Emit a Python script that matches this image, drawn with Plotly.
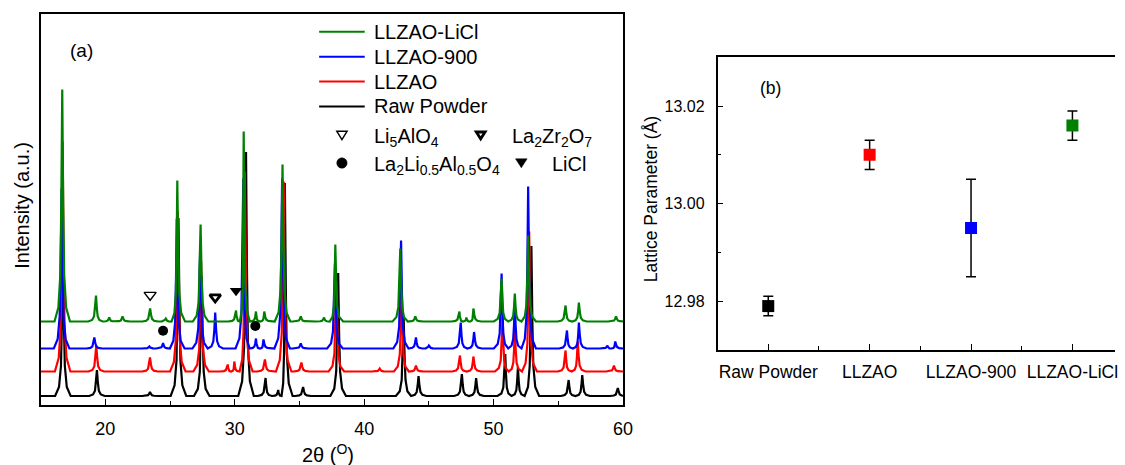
import plotly.graph_objects as go

# ---------------- data ----------------
# (a) XRD patterns: peak positions (2theta, deg) and heights (a.u.) above each baseline
series_names = ["Raw Powder", "LLZAO", "LLZAO-900", "LLZAO-LiCl"]
series_colors = ["#000000", "#ff0000", "#0000ff", "#008000"]

raw_base = 9.0
raw_pos = [16.72, 19.35, 23.45, 25.65, 27.45, 30.87, 32.38, 33.36, 33.87, 35.28,
           37.99, 43.05, 44.20, 47.55, 48.65, 50.90, 51.88, 52.92, 55.80, 56.85, 59.60]
raw_h = [150, 26, 4, 178, 120, 244, 18, 6, 213, 9,
         123, 80, 20, 22, 18, 42, 29, 150, 16, 21, 8]

llzao_base = 33.5
llzao_pos = [16.70, 19.30, 23.45, 25.60, 27.40, 29.46, 29.97, 30.78, 32.33, 33.78, 35.15,
             37.85, 41.20, 42.90, 44.00, 47.40, 48.44, 50.70, 51.64, 52.75, 55.56, 56.50, 59.30]
llzao_h = [230, 26, 14, 160, 110, 7, 10, 200, 12, 190, 9,
           90, 3, 85, 6, 16, 15, 55, 44, 140, 21, 30, 6]

l900_base = 56.5
l900_pos = [16.62, 19.15, 23.40, 24.46, 25.52, 27.33, 28.49, 30.66, 31.64, 32.22, 33.66, 35.10,
            37.74, 42.85, 44.00, 45.00, 47.46, 48.49, 50.62, 51.64, 52.67, 55.67, 56.59, 58.80, 59.40]
l900_h = [160, 11, 2, 5.5, 130, 100, 36, 170, 10, 9, 170, 5,
          85, 108, 11, 3, 26, 16.5, 75, 46, 162, 18, 26, 3, 7]

licl_base = 83.5
licl_pos = [16.67, 19.28, 20.30, 21.33, 23.46, 24.67, 25.56, 27.36, 30.10, 30.69, 31.64, 32.28,
            33.69, 35.10, 36.90, 37.77, 42.79, 43.95, 47.36, 47.90, 48.44, 50.62, 51.64, 52.67,
            55.56, 56.59, 59.46]
licl_h = [232, 26, 4, 5, 13, 3, 141, 97, 11, 190, 10, 10,
          157, 5, 4, 77, 73, 5, 10, 4, 13, 43, 28, 86,
          16, 19, 5]

# impurity-phase markers (2theta, a.u.)
li5alo4_x, li5alo4_y = [23.46], [110]
la2zr2o7_x, la2zr2o7_y = [28.49], [107.7]
licl_mark_x, licl_mark_y = [30.10], [114.3]
la2lialo4_x, la2lialo4_y = [24.46, 31.59], [74.3, 79.0]

# (b) lattice parameters (Angstrom) with uncertainties
samples = ["Raw Powder", "LLZAO", "LLZAO-900", "LLZAO-LiCl"]
lattice = [12.979, 13.010, 12.995, 13.016]
lattice_err = [0.002, 0.003, 0.010, 0.003]

two_theta_ticks = [20, 30, 40, 50, 60]
lattice_ticks = [12.98, 13.00, 13.02]

# ---------------- helpers ----------------
W, H = 1125, 465
FONT = "Liberation Sans, Arial, sans-serif"

# cusp outline of a single reflection: offsets (deg) from the centre and
# the fraction of the peak height drawn at that offset
CUSP_OFF = [0.60, 0.30, 0.15, 0.075]
CUSP_FRAC = [0.0, 0.06, 0.20, 0.50]


def px(x):
    return x / W


def py(y):
    return 1 - y / H


def pattern(pos, hts, base, x_lo=15.0, x_hi=60.0):
    """Polyline of a diffraction pattern: one cusp per listed reflection."""
    pairs = sorted(zip(pos, hts))
    xs, ys = [x_lo], [base]
    reach = CUSP_OFF[0]
    for i, (p, h) in enumerate(pairs):
        gl = p - pairs[i - 1][0] if i > 0 else 1e9
        gr = pairs[i + 1][0] - p if i < len(pairs) - 1 else 1e9
        sl = min(1.0, gl / 2 / reach)
        sr = min(1.0, gr / 2 / reach)
        for off, fr in zip(CUSP_OFF, CUSP_FRAC):
            xs.append(p - off * sl)
            ys.append(base + fr * h)
        xs.append(p)
        ys.append(base + h)
        for off, fr in zip(reversed(CUSP_OFF), reversed(CUSP_FRAC)):
            xs.append(p + off * sr)
            ys.append(base + fr * h)
    xs.append(x_hi)
    ys.append(base)
    return xs, ys


fig = go.Figure()

# ---------------- (a) XRD ----------------
patterns = [(raw_pos, raw_h, raw_base), (llzao_pos, llzao_h, llzao_base),
            (l900_pos, l900_h, l900_base), (licl_pos, licl_h, licl_base)]
for (pp, hh, bb), name, col in zip(patterns, series_names, series_colors):
    xs, ys = pattern(pp, hh, bb)
    fig.add_trace(go.Scatter(x=xs, y=ys, mode="lines", name=name,
                             line=dict(color=col, width=2.2), showlegend=False,
                             xaxis="x", yaxis="y"))

mk = dict(mode="markers", showlegend=False, xaxis="x", yaxis="y")
fig.add_trace(go.Scatter(x=li5alo4_x, y=li5alo4_y,
                         marker=dict(symbol="triangle-down", size=10.5, color="white",
                                     line=dict(color="black", width=1.4)), **mk))
fig.add_trace(go.Scatter(x=la2zr2o7_x, y=la2zr2o7_y,
                         marker=dict(symbol="triangle-down", size=9.5, color="white",
                                     line=dict(color="black", width=2.8)), **mk))
fig.add_trace(go.Scatter(x=licl_mark_x, y=licl_mark_y,
                         marker=dict(symbol="triangle-down", size=11, color="black",
                                     line=dict(width=0)), **mk))
fig.add_trace(go.Scatter(x=la2lialo4_x, y=la2lialo4_y,
                         marker=dict(symbol="circle", size=10, color="black",
                                     line=dict(width=0)), **mk))

# ---------------- (b) lattice parameter ----------------
xpos = list(range(1, len(samples) + 1))
fig.add_trace(go.Scatter(
    x=xpos, y=lattice, mode="markers", showlegend=False, xaxis="x2", yaxis="y2",
    marker=dict(symbol="square", size=12, color=series_colors, line=dict(width=0)),
    error_y=dict(type="data", array=lattice_err, visible=True, color="black",
                 thickness=1.5, width=5)))

axis_common = dict(showline=True, linecolor="black", linewidth=1.6, showgrid=False,
                   zeroline=False, ticks="inside", tickcolor="black", tickwidth=1.4)

fig.update_layout(
    width=W, height=H, margin=dict(l=0, r=0, t=0, b=0),
    paper_bgcolor="white", plot_bgcolor="white",
    font=dict(family=FONT, color="black"),
    xaxis=dict(domain=[px(41), px(628.6)], range=[15, 60], tickvals=two_theta_ticks,
               ticklen=6, mirror=True, ticklabelstandoff=7,
               tickfont=dict(family=FONT, color="black", size=18),
               minor=dict(dtick=5, tick0=0, ticks="inside", ticklen=4, tickcolor="black",
                          tickwidth=1.2),
               **axis_common),
    yaxis=dict(domain=[py(405), py(14)], range=[0, 391], showticklabels=False,
               mirror=True, anchor="x",
               **{**axis_common, "ticks": ""}),
    xaxis2=dict(domain=[px(724), 1.0], range=[0.5, 4.42], tickvals=xpos, ticktext=samples,
                ticklen=6, mirror=True, anchor="y2", ticklabelstandoff=5,
                tickfont=dict(family=FONT, color="black", size=17.5),
                minor=dict(tickvals=[1.5, 2.5, 3.5], ticks="inside", ticklen=4,
                           tickcolor="black", tickwidth=1.2),
                **axis_common),
    yaxis2=dict(domain=[py(350), py(57.3)], range=[12.97, 13.03], anchor="x2",
                tickvals=lattice_ticks, ticktext=[f"{v:.2f}" for v in lattice_ticks],
                ticklen=6, mirror=False, ticklabelstandoff=8,
                tickfont=dict(family=FONT, color="black", size=16),
                minor=dict(tickvals=[12.99, 13.01], ticks="inside", ticklen=4,
                           tickcolor="black", tickwidth=1.2),
                **axis_common),
)

ann = []


def text(x, y, s, size, xanchor="center", angle=0):
    ann.append(dict(x=px(x), y=py(y), xref="paper", yref="paper", text=s, showarrow=False,
                    xanchor=xanchor, yanchor="middle", textangle=angle,
                    font=dict(family=FONT, size=size, color="black")))


text(82, 50, "(a)", 19)
text(777, 88, "(b)", 17.5)
text(331, 453, "2θ (<sup>O</sup>)", 20)
text(22, 205, "Intensity (a.u.)", 20, angle=-90)
text(657, 199, "Lattice Parameter (Å)", 17.5, angle=-90)

# legend for (a)
shapes = []
legend_rows = [("LLZAO-LiCl", "#008000", 31.7), ("LLZAO-900", "#0000ff", 56.7),
               ("LLZAO", "#ff0000", 81.5), ("Raw Powder", "#000000", 106.5)]
for label, col, yy in legend_rows:
    shapes.append(dict(type="line", xref="paper", yref="paper", x0=px(322), x1=px(368),
                       y0=py(yy), y1=py(yy), line=dict(color=col, width=2)))
    text(375, yy, label, 20, xanchor="left")

text(375, 137, "Li<sub>5</sub>AlO<sub>4</sub>", 20, xanchor="left")
text(515, 137, "La<sub>2</sub>Zr<sub>2</sub>O<sub>7</sub>", 20, xanchor="left")
text(375, 166, "La<sub>2</sub>Li<sub>0.5</sub>Al<sub>0.5</sub>O<sub>4</sub>", 20, xanchor="left")
text(555, 164, "LiCl", 20, xanchor="left")


def tri(xc, yc, half_w, top, apex, fill, lw):
    return dict(type="path", xref="paper", yref="paper", xsizemode="pixel", ysizemode="pixel",
                xanchor=px(xc), yanchor=py(yc),
                path=f"M{-half_w},{top} L{half_w},{top} L0,{-apex} Z",
                fillcolor=fill, line=dict(color="black", width=lw))


shapes.append(tri(345, 135, 5.2, 3.8, 4.6, "white", 1.4))
shapes.append(tri(485, 135, 4.4, 3.0, 3.8, "white", 2.8))
shapes.append(tri(526, 163, 5.8, 4.2, 4.8, "black", 0.5))
shapes.append(dict(type="circle", xref="paper", yref="paper", xsizemode="pixel",
                   ysizemode="pixel", xanchor=px(345), yanchor=py(163),
                   x0=-5.2, x1=5.2, y0=-5.2, y1=5.2, fillcolor="black",
                   line=dict(color="black", width=0.5)))

fig.update_layout(annotations=ann, shapes=shapes)
fig.write_html("out.html")
